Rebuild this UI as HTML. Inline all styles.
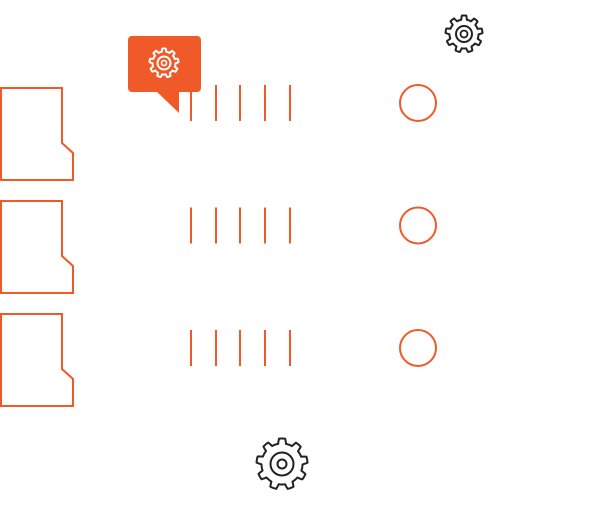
<!DOCTYPE html>
<html><head><meta charset="utf-8"><style>
html,body{margin:0;padding:0;background:#fff;width:602px;height:514px;overflow:hidden}
svg{display:block}
</style></head><body>
<svg id="s" width="602" height="514" viewBox="0 0 602 514" xmlns="http://www.w3.org/2000/svg">
<g fill="none" stroke="#f05a28" stroke-width="2">
<path d="M1,88 H62 V143 L73,153 V180 H1 Z"/>
<path d="M1,201 H62 V256 L73,266 V293 H1 Z"/>
<path d="M1,314 H62 V369 L73,379 V406 H1 Z"/>
<g id="ln">
<line x1="191" y1="85" x2="191" y2="121"/><line x1="216" y1="85" x2="216" y2="121"/><line x1="240" y1="85" x2="240" y2="121"/><line x1="265" y1="85" x2="265" y2="121"/><line x1="290" y1="85" x2="290" y2="121"/>
</g>
<g transform="translate(0,122.5)"><line x1="191" y1="85" x2="191" y2="121"/><line x1="216" y1="85" x2="216" y2="121"/><line x1="240" y1="85" x2="240" y2="121"/><line x1="265" y1="85" x2="265" y2="121"/><line x1="290" y1="85" x2="290" y2="121"/></g>
<g transform="translate(0,245)"><line x1="191" y1="85" x2="191" y2="121"/><line x1="216" y1="85" x2="216" y2="121"/><line x1="240" y1="85" x2="240" y2="121"/><line x1="265" y1="85" x2="265" y2="121"/><line x1="290" y1="85" x2="290" y2="121"/></g>
<circle cx="418" cy="103" r="18"/>
<circle cx="418" cy="225.5" r="18"/>
<circle cx="418" cy="348" r="18"/>
</g>
<rect x="128" y="36" width="73" height="56" rx="4" fill="#f05a28"/>
<path d="M156,91 L179,113 V91 Z" fill="#f05a28"/>
<g id="gears"></g>
<circle cx="164" cy="63" r="6.5" fill="none" stroke="#fff" stroke-width="2"/>
<circle cx="164" cy="63" r="2.5" fill="none" stroke="#fff" stroke-width="1.6"/>
<circle cx="464" cy="34" r="8" fill="none" stroke="#222" stroke-width="2"/>
<circle cx="464" cy="34" r="3.5" fill="none" stroke="#222" stroke-width="1.8"/>
<circle cx="282" cy="464" r="11.5" fill="none" stroke="#222" stroke-width="2"/>
<circle cx="282" cy="464" r="4.5" fill="none" stroke="#222" stroke-width="2"/>
</svg>
<script>
function gear(cx,cy,R,r,n,col,w){
 var d="",N=n*40;
 for(var i=0;i<=N;i++){
  var a=i/N*2*Math.PI, t=(i%40)/40, rad;
  if(t<0.35) rad=R; else if(t<0.45) rad=R-(R-r)*(t-0.35)/0.1; else if(t<0.9) rad=r; else rad=r+(R-r)*(t-0.9)/0.1;
  var x=cx+rad*Math.cos(a-Math.PI/2-0.17*2*Math.PI/n), y=cy+rad*Math.sin(a-Math.PI/2-0.17*2*Math.PI/n);
  d+=(i?"L":"M")+x.toFixed(2)+","+y.toFixed(2);
 }
 var p=document.createElementNS("http://www.w3.org/2000/svg","path");
 p.setAttribute("d",d+"Z");p.setAttribute("fill","none");p.setAttribute("stroke",col);p.setAttribute("stroke-width",w);p.setAttribute("stroke-linejoin","round");
 document.getElementById("gears").appendChild(p);
}
gear(164,63,14.5,11.5,9,"#fff",2);
gear(464,34,18.5,14.5,9,"#222",2);
gear(282,464,25.5,20.5,9,"#222",2);
</script>
</body></html>
